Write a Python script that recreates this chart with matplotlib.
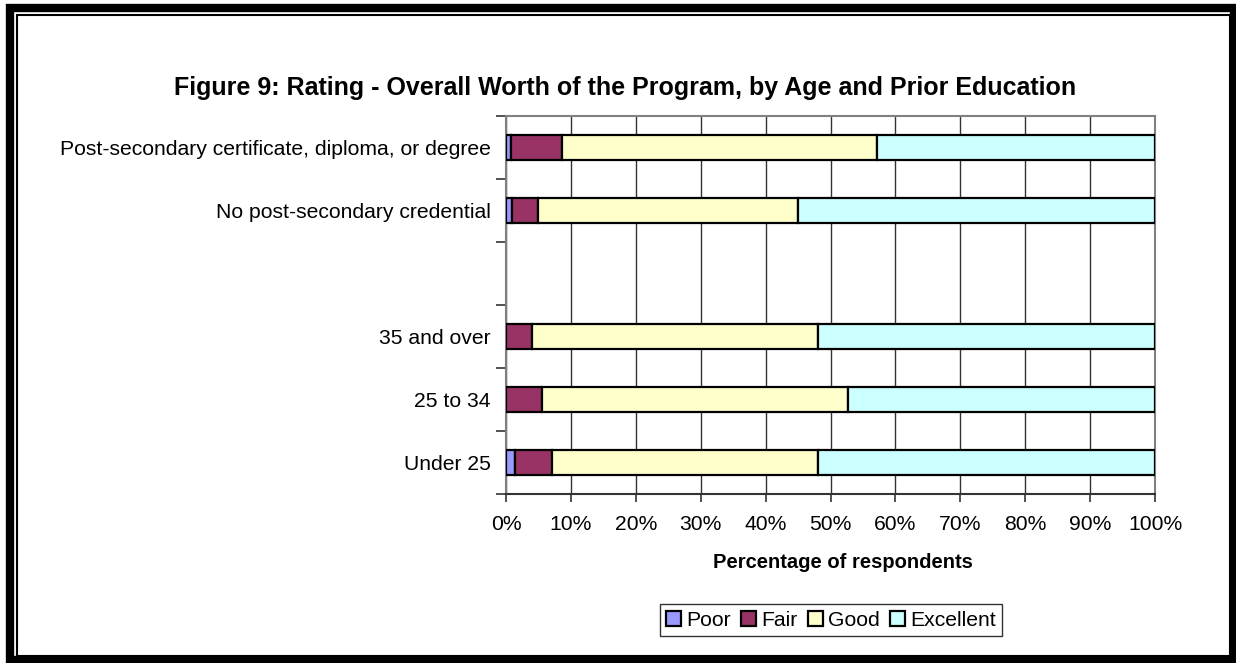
import numpy as np
import matplotlib.pyplot as plt
from matplotlib.patches import Rectangle

plt.rcParams['font.family'] = ['Liberation Sans', 'DejaVu Sans']

# groups listed bottom to top; the blank entry is a spacer row
groups = ['Under 25', '25 to 34', '35 and over', '',
          'No post-secondary credential',
          'Post-secondary certificate, diploma, or degree']
ratings = ['Poor', 'Fair', 'Good', 'Excellent']
poor = [1.4, 0.0, 0.0, np.nan, 0.9, 0.7]
fair = [5.7, 5.6, 4.0, np.nan, 4.1, 8.0]
good = [41.0, 47.1, 44.0, np.nan, 40.0, 48.5]
excellent = [51.9, 47.3, 52.0, np.nan, 55.0, 42.8]
colors = ['#9999FF', '#993366', '#FFFFCC', '#CCFFFF']
x_ticks = list(range(0, 101, 10))

FS = 15.2

def main():
    fig = plt.figure(figsize=(12.36, 6.63), dpi=100)
    ax = fig.add_axes([506 / 1236, 1 - 494 / 663, 649 / 1236, 378 / 663])

    y = np.arange(len(groups))
    has_data = ~np.isnan(np.array(poor))
    left = np.zeros(len(groups))
    for name, vals, col in zip(ratings, [poor, fair, good, excellent], colors):
        vals = np.array(vals)
        ax.barh(y[has_data], vals[has_data], left=left[has_data], height=0.4,
                color=col, edgecolor='black', linewidth=1.6, label=name, zorder=3)
        left = left + np.nan_to_num(vals)

    ax.set_xlim(0, 100)
    ax.set_ylim(-0.5, len(groups) - 0.5)
    ax.set_xticks(x_ticks)
    ax.set_xticklabels(['%d%%' % t for t in x_ticks])
    ax.set_yticks(y)
    ax.set_yticklabels(groups)
    ax.set_yticks(np.arange(len(groups) + 1) - 0.5, minor=True)
    ax.tick_params(axis='y', which='major', length=0, pad=11, labelsize=FS)
    ax.tick_params(axis='y', which='minor', length=7, width=1.2, color='#333333')
    ax.tick_params(axis='x', length=6, width=1.2, color='#333333', pad=9,
                   labelsize=FS)
    ax.xaxis.grid(True, color='#333333', linewidth=1.0, zorder=0)

    for side in ['left', 'top', 'right']:
        ax.spines[side].set_color('#808080')
        ax.spines[side].set_linewidth(1.5)
    ax.spines['bottom'].set_color('#333333')
    ax.spines['bottom'].set_linewidth(1.5)

    fig.text(625 / 1236, 1 - 88 / 663,
             'Figure 9: Rating - Overall Worth of the Program, by Age and Prior Education',
             ha='center', va='center', fontsize=18, fontweight='bold')
    fig.text(843 / 1236, 1 - 563 / 663, 'Percentage of respondents',
             ha='center', va='center', fontsize=14.5, fontweight='bold')

    leg = fig.legend(loc='center', bbox_to_anchor=(831 / 1236, 1 - 620 / 663),
                     ncol=4, frameon=True, fancybox=False, fontsize=FS,
                     handlelength=0.7, handleheight=0.7, handletextpad=0.25,
                     columnspacing=0.5, borderpad=0.3, borderaxespad=0)
    leg.get_frame().set_edgecolor('black')
    leg.get_frame().set_linewidth(1.0)

    # double frame round the whole chart
    fig.add_artist(Rectangle((10 / 1236, 1 - 660 / 663), 1224 / 1236, 652 / 663,
                             transform=fig.transFigure, fill=False,
                             edgecolor='black', linewidth=6))
    fig.add_artist(Rectangle((17 / 1236, 1 - 655.5 / 663), 1213 / 1236, 640.5 / 663,
                             transform=fig.transFigure, fill=False,
                             edgecolor='black', linewidth=1.5))

    fig.savefig('out.png', dpi=100)

if __name__ == '__main__':
    main()
